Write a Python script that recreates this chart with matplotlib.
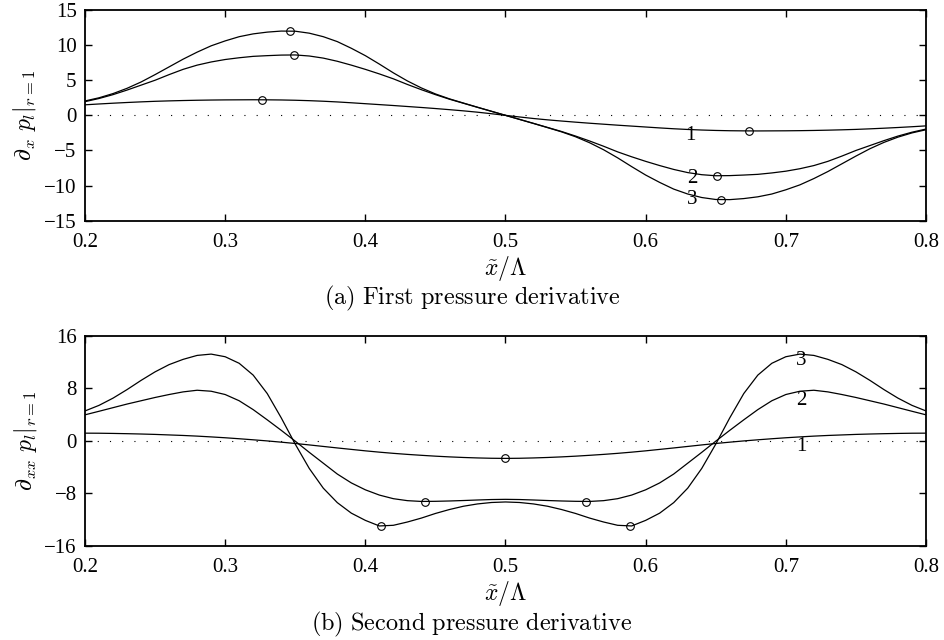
import matplotlib
matplotlib.use("Agg")
import matplotlib.pyplot as plt
import numpy as np

plt.rcParams["font.family"] = ["Liberation Serif", "DejaVu Serif"]
plt.rcParams["mathtext.fontset"] = "cm"

# abscissa x~/Lambda, step 0.01
x = np.round(np.linspace(0.2, 0.8, 61), 2)

# (a) first pressure derivative, curves 1..3
d1_c1 = [1.50, 1.62, 1.73, 1.83, 1.92, 2.00, 2.06, 2.11, 2.15, 2.18, 2.20,
         2.21, 2.22, 2.21, 2.19, 2.15, 2.09, 2.01, 1.91, 1.79, 1.66,
         1.53, 1.40, 1.26, 1.12, 0.97, 0.81, 0.64, 0.45, 0.23, 0.00,
         -0.23, -0.45, -0.64, -0.81, -0.97, -1.12, -1.26, -1.40, -1.53, -1.66,
         -1.79, -1.91, -2.01, -2.09, -2.15, -2.19, -2.21, -2.22, -2.21, -2.20,
         -2.18, -2.15, -2.11, -2.06, -2.00, -1.92, -1.83, -1.73, -1.62, -1.50]
d1_c2 = [1.95, 2.4, 2.95, 3.6, 4.3, 5.0, 5.8, 6.55, 7.15, 7.6, 7.95,
         8.2, 8.4, 8.5, 8.58, 8.6, 8.45, 8.15, 7.7, 7.15, 6.55,
         5.9, 5.2, 4.4, 3.65, 2.95, 2.3, 1.72, 1.14, 0.57, 0.0,
         -0.57, -1.14, -1.72, -2.3, -2.95, -3.65, -4.4, -5.2, -5.9, -6.55,
         -7.15, -7.7, -8.15, -8.45, -8.6, -8.58, -8.5, -8.4, -8.2, -7.95,
         -7.6, -7.15, -6.55, -5.8, -5.0, -4.3, -3.6, -2.95, -2.4, -1.95]
d1_c3 = [2.05, 2.5, 3.1, 3.85, 4.75, 5.8, 6.9, 8.0, 9.0, 9.9, 10.6,
         11.2, 11.6, 11.85, 12.0, 11.98, 11.7, 11.2, 10.5, 9.55, 8.5,
         7.3, 6.05, 4.9, 3.9, 3.05, 2.35, 1.75, 1.16, 0.58, 0.0,
         -0.58, -1.16, -1.75, -2.35, -3.05, -3.9, -4.9, -6.05, -7.3, -8.5,
         -9.55, -10.5, -11.2, -11.7, -11.98, -12.0, -11.85, -11.6, -11.2, -10.6,
         -9.9, -9.0, -8.0, -6.9, -5.8, -4.75, -3.85, -3.1, -2.5, -2.05]

# extrema markers (a)
d1_mx = [0.326, 0.349, 0.346, 0.674, 0.651, 0.654]
d1_my = [2.22, 8.6, 12.0, -2.22, -8.6, -12.0]

# (b) second pressure derivative, curves 1..3
d2_c1 = [1.17, 1.16, 1.13, 1.09, 1.04, 0.98, 0.90, 0.82, 0.72, 0.60, 0.47,
         0.32, 0.16, -0.01, -0.20, -0.40, -0.62, -0.85, -1.08, -1.30, -1.52,
         -1.72, -1.90, -2.06, -2.20, -2.33, -2.44, -2.53, -2.60, -2.65, -2.67,
         -2.65, -2.60, -2.53, -2.44, -2.33, -2.20, -2.06, -1.90, -1.72, -1.52,
         -1.30, -1.08, -0.85, -0.62, -0.40, -0.20, -0.01, 0.16, 0.32, 0.47,
         0.60, 0.72, 0.82, 0.90, 0.98, 1.04, 1.09, 1.13, 1.16, 1.17]
d2_c2 = [3.96, 4.5, 5.05, 5.6, 6.1, 6.6, 7.05, 7.45, 7.7, 7.55, 7.05,
         6.1, 4.75, 3.2, 1.6, -0.05, -1.75, -3.4, -5.05, -6.4, -7.45,
         -8.25, -8.8, -9.1, -9.22, -9.2, -9.15, -9.08, -9.0, -8.93, -8.9,
         -8.93, -9.0, -9.08, -9.15, -9.2, -9.22, -9.1, -8.8, -8.25, -7.45,
         -6.4, -5.05, -3.4, -1.75, -0.05, 1.6, 3.2, 4.75, 6.1, 7.05,
         7.55, 7.7, 7.45, 7.05, 6.6, 6.1, 5.6, 5.05, 4.5, 3.96]
d2_c3 = [4.55, 5.4, 6.5, 7.8, 9.2, 10.5, 11.6, 12.4, 13.0, 13.2, 12.8,
         11.8, 10.0, 7.2, 3.5, -0.5, -4.2, -7.2, -9.4, -11.0, -12.1,
         -12.95, -12.85, -12.35, -11.75, -11.05, -10.45, -9.95, -9.6, -9.38, -9.3,
         -9.38, -9.6, -9.95, -10.45, -11.05, -11.75, -12.35, -12.85, -12.95, -12.1,
         -11.0, -9.4, -7.2, -4.2, -0.5, 3.5, 7.2, 10.0, 11.8, 12.8,
         13.2, 13.0, 12.4, 11.6, 10.5, 9.2, 7.8, 6.5, 5.4, 4.55]

# extrema markers (b)
d2_mx = [0.5, 0.4425, 0.5575, 0.411, 0.589]
d2_my = [-2.67, -9.23, -9.23, -13.0, -13.0]

# curve labels
lab_a = [("1", 0.632, -2.8), ("2", 0.633, -8.95), ("3", 0.633, -12.0)]
lab_b = [("3", 0.711, 12.2), ("2", 0.711, 6.2), ("1", 0.711, -0.9)]

fig = plt.figure(figsize=(9.44, 6.4), dpi=100)
W, H = 944, 640


def make_ax(top_px, bot_px):
    return fig.add_axes([85 / W, 1 - bot_px / H, (926 - 85) / W, (bot_px - top_px) / H])


def style_ax(ax, yticks, ylabel):
    ax.set_xlim(0.2, 0.8)
    ax.set_ylim(yticks[0], yticks[-1])
    ax.set_xticks([0.2, 0.3, 0.4, 0.5, 0.6, 0.7, 0.8])
    ax.set_xticklabels(["0.2", "0.3", "0.4", "0.5", "0.6", "0.7", "0.8"])
    ax.set_yticks(yticks)
    ax.tick_params(direction="in", top=True, right=True, length=5, width=1,
                   labelsize=15, pad=6)
    ax.tick_params(axis="x", pad=9)
    for s in ax.spines.values():
        s.set_linewidth(1.3)
    ax.axhline(0, color="k", lw=0.8, ls=(0, (1, 10)))
    ax.set_xlabel(r"$\tilde{x}/\Lambda$", fontsize=17, labelpad=1)
    ax.set_ylabel(ylabel, fontsize=17, labelpad=4)


ax1 = make_ax(10, 220.7)
for c in (d1_c1, d1_c2, d1_c3):
    ax1.plot(x, c, color="k", lw=0.9)
ax1.plot(d1_mx, d1_my, "o", mfc="none", mec="k", ms=5.5, mew=0.8)
for t, tx, ty in lab_a:
    ax1.text(tx, ty, t, ha="center", va="center", fontsize=15)
style_ax(ax1, [-15, -10, -5, 0, 5, 10, 15], r"$\partial_x\ p_l|_{r=1}$")

ax2 = make_ax(335.7, 546)
for c in (d2_c1, d2_c2, d2_c3):
    ax2.plot(x, c, color="k", lw=0.9)
ax2.plot(d2_mx, d2_my, "o", mfc="none", mec="k", ms=5.5, mew=0.8)
for t, tx, ty in lab_b:
    ax2.text(tx, ty, t, ha="center", va="center", fontsize=15)
style_ax(ax2, [-16, -8, 0, 8, 16], r"$\partial_{xx}\ p_l|_{r=1}$")

fig.text(0.5, 1 - 298 / H, r"$\mathrm{(a)\ First\ pressure\ derivative}$",
         ha="center", va="center", fontsize=17.5)
fig.text(0.5, 1 - 624 / H, r"$\mathrm{(b)\ Second\ pressure\ derivative}$",
         ha="center", va="center", fontsize=17.5)

fig.savefig("out.png", dpi=100)
